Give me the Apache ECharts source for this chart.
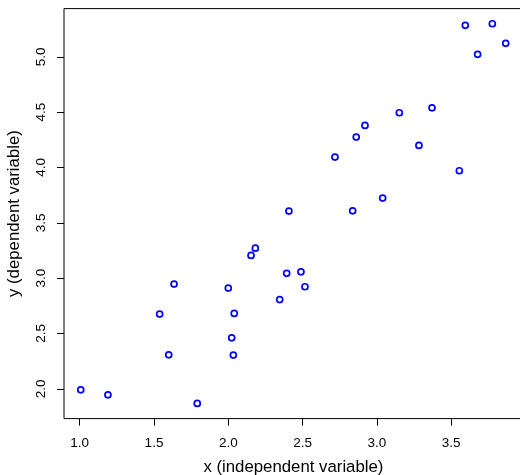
<!DOCTYPE html>
<html>
<head>
<meta charset="utf-8">
<script src="https://cdn.jsdelivr.net/npm/echarts@6/dist/echarts.min.js"></script>
<style>
html,body{margin:0;padding:0;background:#fff;}
#chart{width:520px;height:475px;}
</style>
</head>
<body>
<div id="chart"></div>
<script>
var xValues = [1.007, 1.190, 1.538, 1.635, 1.599, 1.791, 2.000, 2.040, 2.023, 2.034,
               2.153, 2.182, 2.346, 2.393, 2.489, 2.516, 2.408, 2.718, 2.837, 2.861,
               2.920, 3.039, 3.151, 3.283, 3.371, 3.555, 3.595, 3.678, 3.777, 3.867];
var yValues = [1.991, 1.946, 2.675, 2.946, 2.307, 1.868, 2.910, 2.681, 2.461, 2.305,
               3.205, 3.271, 2.806, 3.043, 3.057, 2.922, 3.606, 4.094, 3.608, 4.274,
               4.380, 3.723, 4.494, 4.199, 4.539, 3.970, 5.284, 5.022, 5.298, 5.121];
var xTicks = [1.0, 1.5, 2.0, 2.5, 3.0, 3.5];
var yTicks = [2.0, 2.5, 3.0, 3.5, 4.0, 4.5, 5.0];
var xTitle = 'x (independent variable)';
var yTitle = 'y (dependent variable)';

var points = xValues.map(function (x, i) { return [x, yValues[i]]; });
var font = "'Liberation Sans', Arial, Helvetica, sans-serif";

var chart = echarts.init(document.getElementById('chart'), null, {renderer: 'canvas'});
chart.setOption({
  animation: false,
  backgroundColor: '#ffffff',
  grid: {
    left: 64, top: 8.6, right: -2.8, bottom: 56.4,
    containLabel: false, outerBoundsMode: 'none',
    show: true, borderColor: '#000', borderWidth: 1, backgroundColor: 'transparent'
  },
  xAxis: {
    type: 'value', min: 0.8943, max: 3.982,
    splitLine: {show: false},
    axisLine: {show: false},
    axisTick: {show: true, length: 7, lineStyle: {color: '#000', width: 1}, customValues: xTicks},
    axisLabel: {
      show: true, customValues: xTicks, margin: 18,
      color: '#000', fontSize: 13.5, fontFamily: font,
      formatter: function (v) { return v.toFixed(1); }
    },
    name: xTitle, nameLocation: 'middle', nameGap: 40,
    nameTextStyle: {color: '#000', fontSize: 16.8, fontFamily: font}
  },
  yAxis: {
    type: 'value', min: 1.731, max: 5.435,
    splitLine: {show: false},
    axisLine: {show: false},
    axisTick: {show: true, length: 7, lineStyle: {color: '#000', width: 1}, customValues: yTicks},
    axisLabel: {
      show: true, customValues: yTicks, margin: 16, rotate: 90,
      color: '#000', fontSize: 13.5, fontFamily: font,
      formatter: function (v) { return v.toFixed(1); }
    },
    name: yTitle, nameLocation: 'middle', nameGap: 41,
    nameTextStyle: {color: '#000', fontSize: 16.8, fontFamily: font}
  },
  series: [{
    type: 'scatter',
    data: points,
    symbol: 'circle',
    symbolSize: 6,
    itemStyle: {color: 'rgba(0,0,0,0)', borderColor: '#0000ff', borderWidth: 1.7, opacity: 1}
  }]
});
</script>
</body>
</html>
